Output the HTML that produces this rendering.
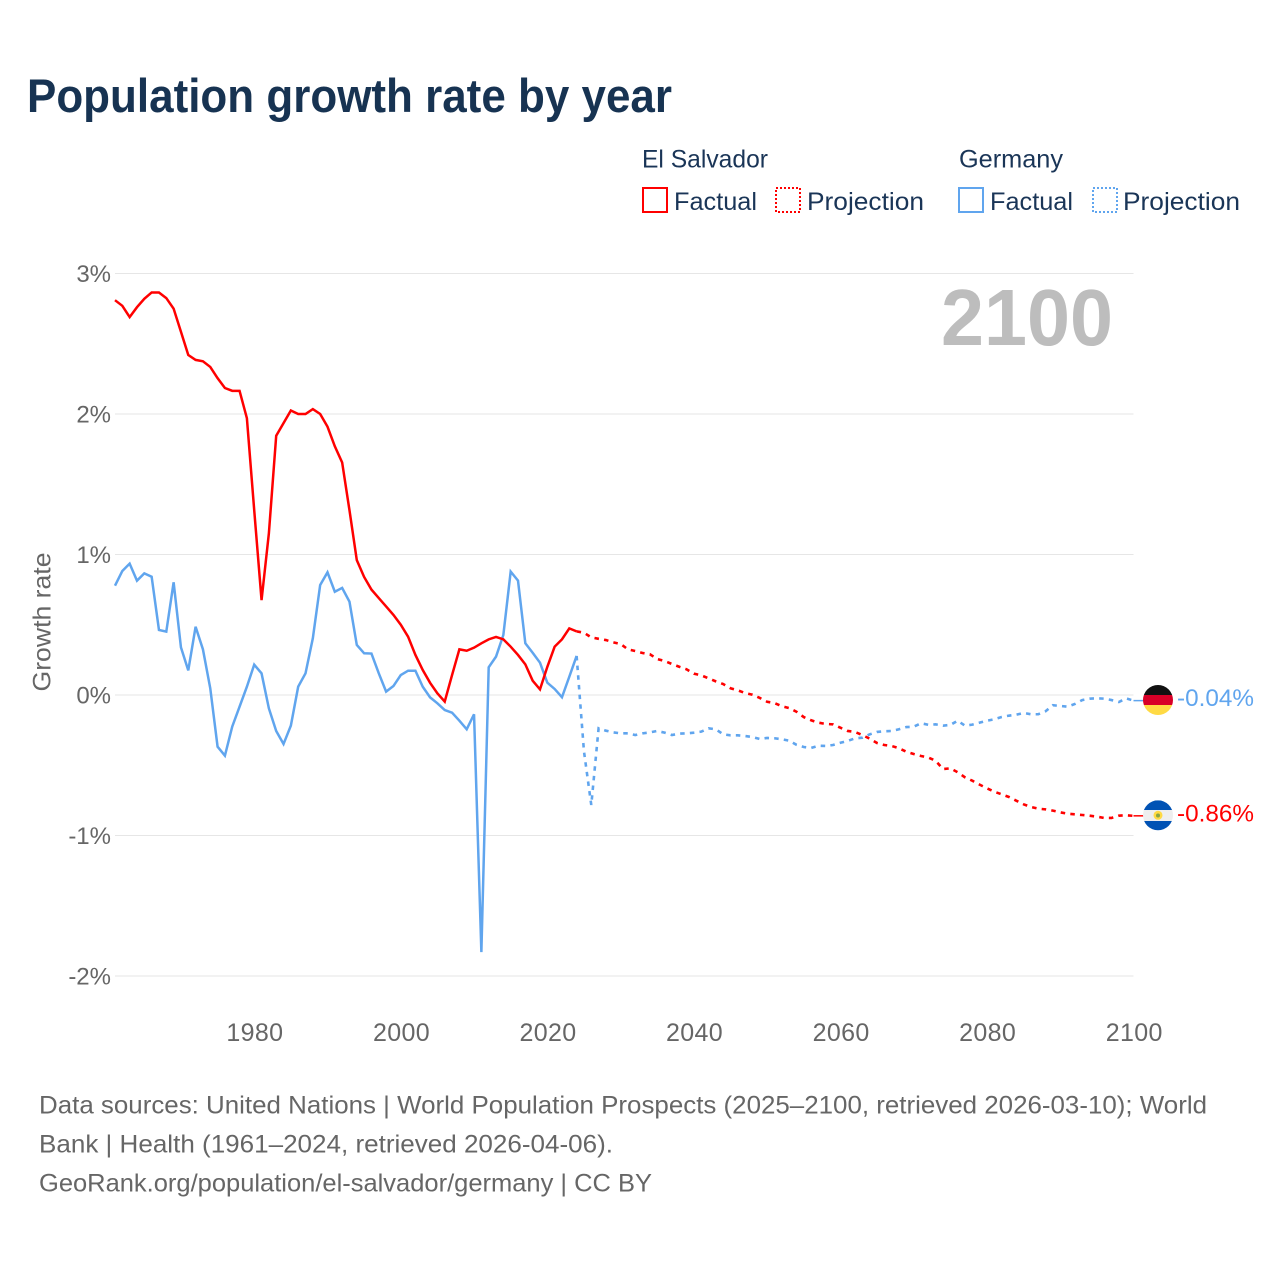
<!DOCTYPE html>
<html lang="en">
<head>
<meta charset="utf-8">
<title>Population growth rate by year</title>
<style>
html,body{margin:0;padding:0;background:#fff;}
svg{display:block;font-family:"Liberation Sans",sans-serif;}
.legend-text{fill:#1a3557;font-size:25px;}
.tick{fill:#666;}
.foot{fill:#666;font-size:25px;}
</style>
</head>
<body>
<svg id="chart" width="1280" height="1280" viewBox="0 0 1280 1280" xmlns="http://www.w3.org/2000/svg">
  <defs>
    <clipPath id="flag-clip-de"><circle cx="1158" cy="700" r="15"/></clipPath>
    <clipPath id="flag-clip-sv"><circle cx="1158" cy="815.3" r="15"/></clipPath>
  </defs>
  <text x="27" y="112" font-size="47" font-weight="700" fill="#173352" textLength="645" lengthAdjust="spacingAndGlyphs">Population growth rate by year</text>

  <g>
    <text class="legend-text" x="642" y="167.5" textLength="126" lengthAdjust="spacingAndGlyphs">El Salvador</text>
    <text class="legend-text" x="959" y="167.5" textLength="104" lengthAdjust="spacingAndGlyphs">Germany</text>
    <rect x="643" y="188" width="24" height="24" fill="none" stroke="#ff0000" stroke-width="2"/>
    <text class="legend-text" x="674" y="210" textLength="83" lengthAdjust="spacingAndGlyphs">Factual</text>
    <rect x="776" y="188" width="24" height="24" fill="none" stroke="#ff0000" stroke-width="2" stroke-dasharray="2 2"/>
    <text class="legend-text" x="807" y="210" textLength="117" lengthAdjust="spacingAndGlyphs">Projection</text>
    <rect x="959" y="188" width="24" height="24" fill="none" stroke="#60a5ee" stroke-width="2"/>
    <text class="legend-text" x="990" y="210" textLength="83" lengthAdjust="spacingAndGlyphs">Factual</text>
    <rect x="1093" y="188" width="24" height="24" fill="none" stroke="#60a5ee" stroke-width="2" stroke-dasharray="2 2"/>
    <text class="legend-text" x="1123" y="210" textLength="117" lengthAdjust="spacingAndGlyphs">Projection</text>
  </g>

  <g id="grid"></g>
  <g id="yticks"></g>
  <g id="xticks"></g>
  <text transform="translate(50.5,622) rotate(-90)" text-anchor="middle" font-size="25" fill="#666" textLength="139" lengthAdjust="spacingAndGlyphs">Growth rate</text>
  <text x="941" y="345" font-size="80" font-weight="700" fill="#bdbdbd" textLength="172" lengthAdjust="spacingAndGlyphs">2100</text>

  <g id="series"></g>

  <g clip-path="url(#flag-clip-de)">
    <rect x="1143" y="685" width="30" height="10" fill="#111"/>
    <rect x="1143" y="695" width="30" height="10" fill="#d80027"/>
    <rect x="1143" y="705" width="30" height="10" fill="#ffda44"/>
  </g>
  <g clip-path="url(#flag-clip-sv)">
    <rect x="1143" y="800.3" width="30" height="10" fill="#0052b4"/>
    <rect x="1143" y="810" width="30" height="11" fill="#eeeeee"/>
    <rect x="1143" y="821" width="30" height="10" fill="#0052b4"/>
    <circle cx="1158" cy="815.3" r="4.5" fill="#ffda44"/>
    <circle cx="1158" cy="815.5" r="2" fill="#8aa544"/>
  </g>
  <g id="endlabels"></g>

  <g>
    <text class="foot" x="39" y="1113.5" textLength="1168" lengthAdjust="spacingAndGlyphs">Data sources: United Nations | World Population Prospects (2025–2100, retrieved 2026-03-10); World</text>
    <text class="foot" x="39" y="1152.5" textLength="574" lengthAdjust="spacingAndGlyphs">Bank | Health (1961–2024, retrieved 2026-04-06).</text>
    <text class="foot" x="39" y="1191.5" textLength="613" lengthAdjust="spacingAndGlyphs">GeoRank.org/population/el-salvador/germany | CC BY</text>
  </g>
</svg>
<script>
const xTickYears = [1980, 2000, 2020, 2040, 2060, 2080, 2100];
const yTickValues = [3, 2, 1, 0, -1, -2];
const factualStartYear = 1961;
const projectionStartYear = 2024;

const elSalvadorFactual = [2.81,2.77,2.69,2.76,2.82,2.865,2.865,2.825,2.75,2.585,2.42,2.385,2.375,2.335,2.255,2.185,2.165,2.165,1.97,1.315,0.675,1.15,1.845,1.935,2.025,2.00,2.00,2.035,2.00,1.91,1.77,1.655,1.315,0.96,0.84,0.75,0.69,0.63,0.57,0.50,0.415,0.285,0.178,0.087,0.012,-0.047,0.142,0.325,0.315,0.337,0.368,0.396,0.413,0.396,0.344,0.285,0.218,0.102,0.04,0.2,0.344,0.396,0.474,0.453];
const germanyFactual = [0.778,0.883,0.935,0.814,0.866,0.842,0.463,0.451,0.802,0.339,0.175,0.486,0.325,0.048,-0.368,-0.432,-0.225,-0.083,0.059,0.216,0.154,-0.095,-0.256,-0.349,-0.218,0.059,0.154,0.404,0.783,0.873,0.735,0.762,0.664,0.356,0.297,0.295,0.154,0.024,0.064,0.142,0.173,0.173,0.059,-0.017,-0.059,-0.107,-0.126,-0.183,-0.244,-0.137,-1.83,0.197,0.273,0.427,0.878,0.814,0.368,0.301,0.23,0.088,0.043,-0.016,0.13,0.278];
const elSalvadorProjection = [0.453,0.443,0.41,0.40,0.391,0.375,0.363,0.325,0.313,0.299,0.29,0.256,0.242,0.221,0.201,0.183,0.152,0.14,0.119,0.097,0.078,0.048,0.033,0.014,0.002,-0.021,-0.048,-0.057,-0.08,-0.093,-0.119,-0.157,-0.18,-0.197,-0.206,-0.209,-0.233,-0.256,-0.263,-0.285,-0.311,-0.342,-0.356,-0.363,-0.379,-0.404,-0.42,-0.434,-0.445,-0.468,-0.527,-0.522,-0.55,-0.586,-0.61,-0.638,-0.664,-0.688,-0.707,-0.726,-0.752,-0.778,-0.797,-0.809,-0.814,-0.823,-0.835,-0.845,-0.849,-0.854,-0.859,-0.866,-0.875,-0.875,-0.859,-0.856,-0.86];
const germanyProjection = [0.278,-0.40,-0.783,-0.237,-0.254,-0.266,-0.273,-0.273,-0.285,-0.273,-0.266,-0.256,-0.268,-0.285,-0.275,-0.273,-0.268,-0.261,-0.237,-0.244,-0.28,-0.287,-0.287,-0.292,-0.299,-0.313,-0.306,-0.308,-0.315,-0.325,-0.354,-0.37,-0.377,-0.361,-0.363,-0.356,-0.34,-0.327,-0.308,-0.304,-0.28,-0.263,-0.258,-0.256,-0.244,-0.228,-0.226,-0.201,-0.212,-0.209,-0.218,-0.213,-0.183,-0.218,-0.211,-0.197,-0.183,-0.173,-0.157,-0.147,-0.14,-0.128,-0.137,-0.137,-0.116,-0.073,-0.078,-0.083,-0.064,-0.036,-0.026,-0.024,-0.026,-0.036,-0.05,-0.024,-0.04];

const RED = '#ff0000';
const BLUE = '#60a5ee';
const NS = 'http://www.w3.org/2000/svg';

function xScale(year) { return 115 + (year - 1961) * (1133.5 - 115) / (2100 - 1961); }
function yScale(v) { return 695 - v * 140.5; }
function linePath(values, startYear) {
  return values.map(function (v, i) {
    return (i ? 'L' : 'M') + xScale(startYear + i).toFixed(2) + ' ' + yScale(v).toFixed(2);
  }).join(' ');
}
function make(tag, parentId, attrs, text) {
  const el = document.createElementNS(NS, tag);
  Object.keys(attrs).forEach(function (k) { el.setAttribute(k, attrs[k]); });
  if (text !== undefined) el.textContent = text;
  document.getElementById(parentId).appendChild(el);
  return el;
}

yTickValues.forEach(function (v) {
  const line = make('line', 'grid', { x1: 115, x2: 1133.5, y1: yScale(v), y2: yScale(v), stroke: '#e6e6e6', 'stroke-width': 1 });
  
  
  const label = make('text', 'yticks', { class: 'tick', x: 111, y: yScale(v) + 8.5, 'text-anchor': 'end', 'font-size': 24 }, v + '%');
  
  
});

xTickYears.forEach(function (year) {
  const label = make('text', 'xticks', { class: 'tick', x: xScale(year) + 0.7, y: 1041, 'text-anchor': 'middle', 'font-size': 25, 'letter-spacing': 0.35 }, String(year));
  
  
});

function connector(values, color) {
  const last = values[values.length - 1];
  return make('line', 'series', { x1: xScale(2100), x2: 1145, y1: yScale(last), y2: yScale(last), stroke: color, 'stroke-width': 1.5 });
}

const deProj = make('path', 'series', { d: linePath(germanyProjection, projectionStartYear), fill: 'none', stroke: BLUE, 'stroke-width': 2.6, 'stroke-dasharray': '4.5 5.2' });



const deFact = make('path', 'series', { d: linePath(germanyFactual, factualStartYear), fill: 'none', stroke: BLUE, 'stroke-width': 2.5, 'stroke-linejoin': 'miter' });



const svProj = make('path', 'series', { d: linePath(elSalvadorProjection, projectionStartYear), fill: 'none', stroke: RED, 'stroke-width': 2.6, 'stroke-dasharray': '4.5 5.2' });



const svFact = make('path', 'series', { d: linePath(elSalvadorFactual, factualStartYear), fill: 'none', stroke: RED, 'stroke-width': 2.5, 'stroke-linejoin': 'miter' });



const deLink = connector(germanyProjection, BLUE);



const svLink = connector(elSalvadorProjection, RED);



const deEnd = make('text', 'endlabels', { x: 1177, y: 706, 'font-size': 24.3, fill: BLUE }, germanyProjection[germanyProjection.length - 1].toFixed(2) + '%');



const svEnd = make('text', 'endlabels', { x: 1177, y: 821.5, 'font-size': 24.3, fill: RED }, elSalvadorProjection[elSalvadorProjection.length - 1].toFixed(2) + '%');


</script>
</body>
</html>
